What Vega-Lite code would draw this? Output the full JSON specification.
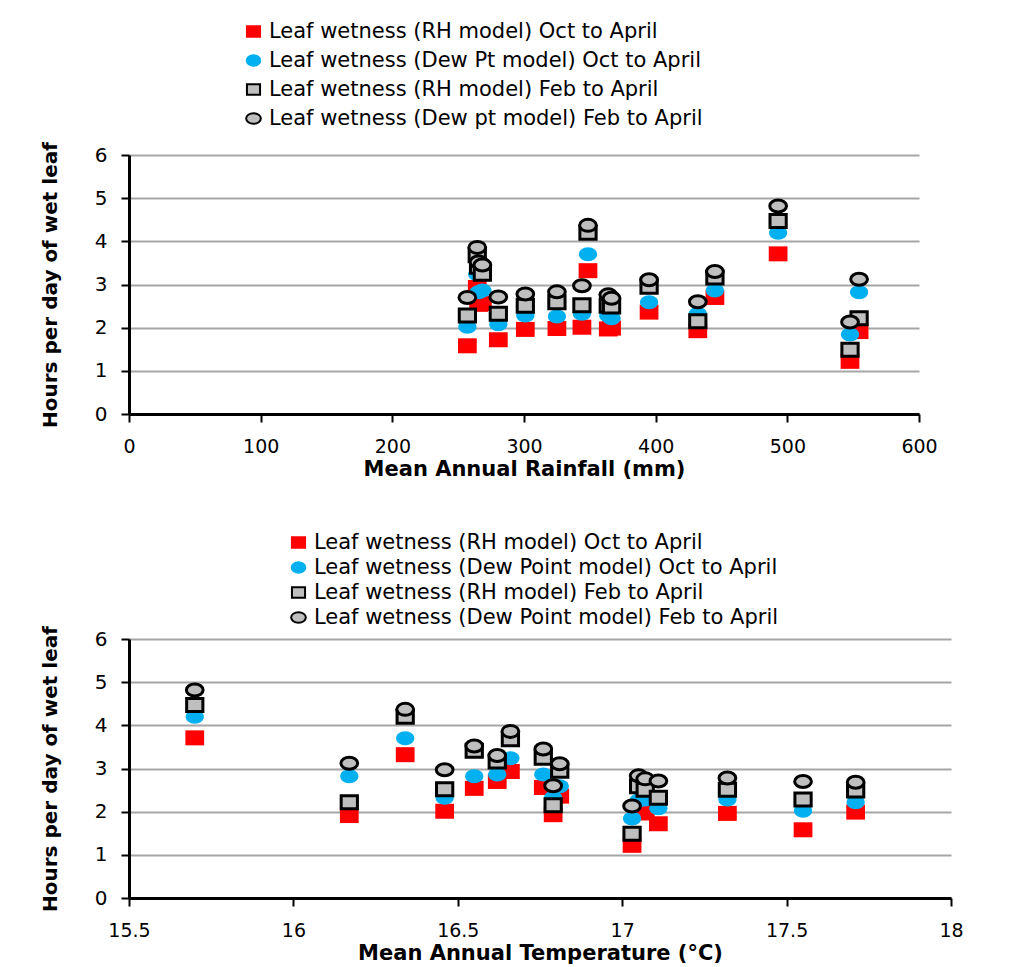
{
  "$schema": "https://vega.github.io/schema/vega-lite/v6.json",
  "padding": {"left": 40, "top": 21, "right": 5, "bottom": 5},
  "datasets": {
    "sites": [
      {"rain": 493.0, "temp": 15.70, "rh_oct": 3.71, "dew_oct": 4.20, "rh_feb": 4.47, "dew_feb": 4.82},
      {"rain": 554.5, "temp": 16.17, "rh_oct": 1.91, "dew_oct": 2.82, "rh_feb": 2.22, "dew_feb": 3.12},
      {"rain": 348.6, "temp": 16.34, "rh_oct": 3.32, "dew_oct": 3.70, "rh_feb": 4.20, "dew_feb": 4.37},
      {"rain": 344.0, "temp": 16.46, "rh_oct": 2.01, "dew_oct": 2.32, "rh_feb": 2.52, "dew_feb": 2.97},
      {"rain": 265.5, "temp": 16.55, "rh_oct": 2.54, "dew_oct": 2.82, "rh_feb": 3.41, "dew_feb": 3.52},
      {"rain": 445.0, "temp": 16.62, "rh_oct": 2.70, "dew_oct": 2.86, "rh_feb": 3.16, "dew_feb": 3.30},
      {"rain": 264.5, "temp": 16.66, "rh_oct": 2.93, "dew_oct": 3.24, "rh_feb": 3.68, "dew_feb": 3.86},
      {"rain": 268.4, "temp": 16.76, "rh_oct": 2.56, "dew_oct": 2.86, "rh_feb": 3.25, "dew_feb": 3.45},
      {"rain": 432.0, "temp": 16.79, "rh_oct": 1.93, "dew_oct": 2.32, "rh_feb": 2.15, "dew_feb": 2.60},
      {"rain": 395.0, "temp": 16.81, "rh_oct": 2.36, "dew_oct": 2.59, "rh_feb": 2.95, "dew_feb": 3.11},
      {"rain": 547.6, "temp": 17.03, "rh_oct": 1.22, "dew_oct": 1.84, "rh_feb": 1.49, "dew_feb": 2.13},
      {"rain": 325.0, "temp": 17.05, "rh_oct": 1.98, "dew_oct": 2.26, "rh_feb": 2.59, "dew_feb": 2.83},
      {"rain": 364.0, "temp": 17.07, "rh_oct": 1.97, "dew_oct": 2.28, "rh_feb": 2.51, "dew_feb": 2.76},
      {"rain": 280.5, "temp": 17.11, "rh_oct": 1.72, "dew_oct": 2.08, "rh_feb": 2.32, "dew_feb": 2.71},
      {"rain": 301.0, "temp": 17.32, "rh_oct": 1.96, "dew_oct": 2.28, "rh_feb": 2.51, "dew_feb": 2.78},
      {"rain": 257.0, "temp": 17.55, "rh_oct": 1.58, "dew_oct": 2.02, "rh_feb": 2.28, "dew_feb": 2.70},
      {"rain": 366.5, "temp": 17.71, "rh_oct": 1.99, "dew_oct": 2.22, "rh_feb": 2.49, "dew_feb": 2.68}
    ]
  },
  "spacing": 53,
  "resolve": {
    "scale": {"fill": "independent", "stroke": "independent", "shape": "independent", "y": "independent", "x": "independent"},
    "legend": {"fill": "independent", "stroke": "independent", "shape": "independent"}
  },
  "vconcat": [
    {
      "width": 790,
      "height": 259,
      "data": {"name": "sites"},
      "encoding": {
        "x": {
          "field": "rain", "type": "quantitative",
          "scale": {"domain": [0, 600], "nice": false},
          "axis": {"title": "Mean Annual Rainfall (mm)", "values": [0, 100, 200, 300, 400, 500, 600], "grid": false}
        }
      },
      "layer": [
        {
          "mark": {"type": "point", "filled": true, "opacity": 1, "size": 225, "strokeWidth": 0},
          "encoding": {
            "y": {
              "field": "rh_oct", "type": "quantitative",
              "scale": {"domain": [0, 6], "nice": false},
              "axis": {"title": "Hours per day of wet leaf", "values": [0, 1, 2, 3, 4, 5, 6], "grid": true}
            },
            "fill": {
              "datum": "Leaf wetness (RH model) Oct to April", "type": "nominal",
              "scale": {
                "domain": ["Leaf wetness (RH model) Oct to April", "Leaf wetness (Dew Pt model) Oct to April", "Leaf wetness (RH model) Feb to April", "Leaf wetness (Dew pt model) Feb to April"],
                "range": ["#ff0000", "#00b0f0", "#bfbfbf", "#bfbfbf"]
              },
              "legend": {"legendX": 114, "legendY": -134, "rowPadding": 7}
            },
            "stroke": {
              "datum": "Leaf wetness (RH model) Oct to April", "type": "nominal",
              "scale": {
                "domain": ["Leaf wetness (RH model) Oct to April", "Leaf wetness (Dew Pt model) Oct to April", "Leaf wetness (RH model) Feb to April", "Leaf wetness (Dew pt model) Feb to April"],
                "range": ["#ff0000", "#00b0f0", "#000000", "#000000"]
              },
              "legend": {"legendX": 114, "legendY": -134, "rowPadding": 7}
            },
            "shape": {
              "datum": "Leaf wetness (RH model) Oct to April", "type": "nominal",
              "scale": {
                "domain": ["Leaf wetness (RH model) Oct to April", "Leaf wetness (Dew Pt model) Oct to April", "Leaf wetness (RH model) Feb to April", "Leaf wetness (Dew pt model) Feb to April"],
                "range": [
                  "M-1.25,-1H1.25V1H-1.25Z",
                  "M-1.3,0C-1.3,-0.552,-0.718,-1,0,-1C0.718,-1,1.3,-0.552,1.3,0C1.3,0.552,0.718,1,0,1C-0.718,1,-1.3,0.552,-1.3,0Z",
                  "M-1.25,-1H1.25V1H-1.25Z",
                  "M-1.4,0C-1.4,-0.552,-0.773,-1,0,-1C0.773,-1,1.4,-0.552,1.4,0C1.4,0.552,0.773,1,0,1C-0.773,1,-1.4,0.552,-1.4,0Z"
                ]
              },
              "legend": {"legendX": 114, "legendY": -134, "rowPadding": 7}
            }
          }
        },
        {
          "mark": {"type": "point", "filled": true, "opacity": 1, "size": 196, "strokeWidth": 0},
          "encoding": {
            "y": {"field": "dew_oct", "type": "quantitative"},
            "fill": {"datum": "Leaf wetness (Dew Pt model) Oct to April", "type": "nominal"},
            "stroke": {"datum": "Leaf wetness (Dew Pt model) Oct to April", "type": "nominal"},
            "shape": {"datum": "Leaf wetness (Dew Pt model) Oct to April", "type": "nominal"}
          }
        },
        {
          "mark": {"type": "point", "filled": true, "opacity": 1, "size": 169, "strokeWidth": 3},
          "encoding": {
            "y": {"field": "rh_feb", "type": "quantitative"},
            "fill": {"datum": "Leaf wetness (RH model) Feb to April", "type": "nominal"},
            "stroke": {"datum": "Leaf wetness (RH model) Feb to April", "type": "nominal"},
            "shape": {"datum": "Leaf wetness (RH model) Feb to April", "type": "nominal"}
          }
        },
        {
          "mark": {"type": "point", "filled": true, "opacity": 1, "size": 144, "strokeWidth": 3},
          "encoding": {
            "y": {"field": "dew_feb", "type": "quantitative"},
            "fill": {"datum": "Leaf wetness (Dew pt model) Feb to April", "type": "nominal"},
            "stroke": {"datum": "Leaf wetness (Dew pt model) Feb to April", "type": "nominal"},
            "shape": {"datum": "Leaf wetness (Dew pt model) Feb to April", "type": "nominal"}
          }
        }
      ]
    },
    {
      "width": 822,
      "height": 259,
      "data": {"name": "sites"},
      "encoding": {
        "x": {
          "field": "temp", "type": "quantitative",
          "scale": {"domain": [15.5, 18], "nice": false, "zero": false},
          "axis": {"title": "Mean Annual Temperature (°C)", "values": [15.5, 16, 16.5, 17, 17.5, 18], "format": "~g", "grid": false}
        }
      },
      "layer": [
        {
          "mark": {"type": "point", "filled": true, "opacity": 1, "size": 225, "strokeWidth": 0},
          "encoding": {
            "y": {
              "field": "rh_oct", "type": "quantitative",
              "scale": {"domain": [0, 6], "nice": false},
              "axis": {"title": "Hours per day of wet leaf", "values": [0, 1, 2, 3, 4, 5, 6], "grid": true}
            },
            "fill": {
              "datum": "Leaf wetness (RH model) Oct to April", "type": "nominal",
              "scale": {
                "domain": ["Leaf wetness (RH model) Oct to April", "Leaf wetness (Dew Point model) Oct to April", "Leaf wetness (RH model) Feb to April", "Leaf wetness (Dew Point model) Feb to April"],
                "range": ["#ff0000", "#00b0f0", "#bfbfbf", "#bfbfbf"]
              },
              "legend": {"legendX": 159, "legendY": -107, "rowPadding": 3}
            },
            "stroke": {
              "datum": "Leaf wetness (RH model) Oct to April", "type": "nominal",
              "scale": {
                "domain": ["Leaf wetness (RH model) Oct to April", "Leaf wetness (Dew Point model) Oct to April", "Leaf wetness (RH model) Feb to April", "Leaf wetness (Dew Point model) Feb to April"],
                "range": ["#ff0000", "#00b0f0", "#000000", "#000000"]
              },
              "legend": {"legendX": 159, "legendY": -107, "rowPadding": 3}
            },
            "shape": {
              "datum": "Leaf wetness (RH model) Oct to April", "type": "nominal",
              "scale": {
                "domain": ["Leaf wetness (RH model) Oct to April", "Leaf wetness (Dew Point model) Oct to April", "Leaf wetness (RH model) Feb to April", "Leaf wetness (Dew Point model) Feb to April"],
                "range": [
                  "M-1.25,-1H1.25V1H-1.25Z",
                  "M-1.3,0C-1.3,-0.552,-0.718,-1,0,-1C0.718,-1,1.3,-0.552,1.3,0C1.3,0.552,0.718,1,0,1C-0.718,1,-1.3,0.552,-1.3,0Z",
                  "M-1.25,-1H1.25V1H-1.25Z",
                  "M-1.4,0C-1.4,-0.552,-0.773,-1,0,-1C0.773,-1,1.4,-0.552,1.4,0C1.4,0.552,0.773,1,0,1C-0.773,1,-1.4,0.552,-1.4,0Z"
                ]
              },
              "legend": {"legendX": 159, "legendY": -107, "rowPadding": 3}
            }
          }
        },
        {
          "mark": {"type": "point", "filled": true, "opacity": 1, "size": 196, "strokeWidth": 0},
          "encoding": {
            "y": {"field": "dew_oct", "type": "quantitative"},
            "fill": {"datum": "Leaf wetness (Dew Point model) Oct to April", "type": "nominal"},
            "stroke": {"datum": "Leaf wetness (Dew Point model) Oct to April", "type": "nominal"},
            "shape": {"datum": "Leaf wetness (Dew Point model) Oct to April", "type": "nominal"}
          }
        },
        {
          "mark": {"type": "point", "filled": true, "opacity": 1, "size": 169, "strokeWidth": 3},
          "encoding": {
            "y": {"field": "rh_feb", "type": "quantitative"},
            "fill": {"datum": "Leaf wetness (RH model) Feb to April", "type": "nominal"},
            "stroke": {"datum": "Leaf wetness (RH model) Feb to April", "type": "nominal"},
            "shape": {"datum": "Leaf wetness (RH model) Feb to April", "type": "nominal"}
          }
        },
        {
          "mark": {"type": "point", "filled": true, "opacity": 1, "size": 144, "strokeWidth": 3},
          "encoding": {
            "y": {"field": "dew_feb", "type": "quantitative"},
            "fill": {"datum": "Leaf wetness (Dew Point model) Feb to April", "type": "nominal"},
            "stroke": {"datum": "Leaf wetness (Dew Point model) Feb to April", "type": "nominal"},
            "shape": {"datum": "Leaf wetness (Dew Point model) Feb to April", "type": "nominal"}
          }
        }
      ]
    }
  ],
  "config": {
    "font": "DejaVu Sans",
    "view": {"stroke": null},
    "axis": {
      "labelFont": "DejaVu Sans", "labelFontSize": 20, "labelColor": "#000000",
      "titleFont": "DejaVu Sans", "titleFontWeight": "bold", "titleColor": "#000000",
      "domainColor": "#000000", "domainWidth": 3,
      "tickColor": "#000000", "tickWidth": 2, "tickSize": 8,
      "gridColor": "#a6a6a6", "gridWidth": 2
    },
    "axisX": {"labelPadding": 15, "labelFontSize": 19, "titleFontSize": 21, "titlePadding": 2, "labelFlush": false},
    "axisY": {"labelPadding": 14, "titleFontSize": 20, "titlePadding": 34},
    "legend": {
      "orient": "none", "title": null, "padding": 0,
      "labelFont": "DejaVu Sans", "labelFontSize": 21, "labelColor": "#000000", "labelLimit": 0,
      "labelOffset": 5, "symbolSize": 110, "symbolStrokeWidth": 2
    }
  }
}
